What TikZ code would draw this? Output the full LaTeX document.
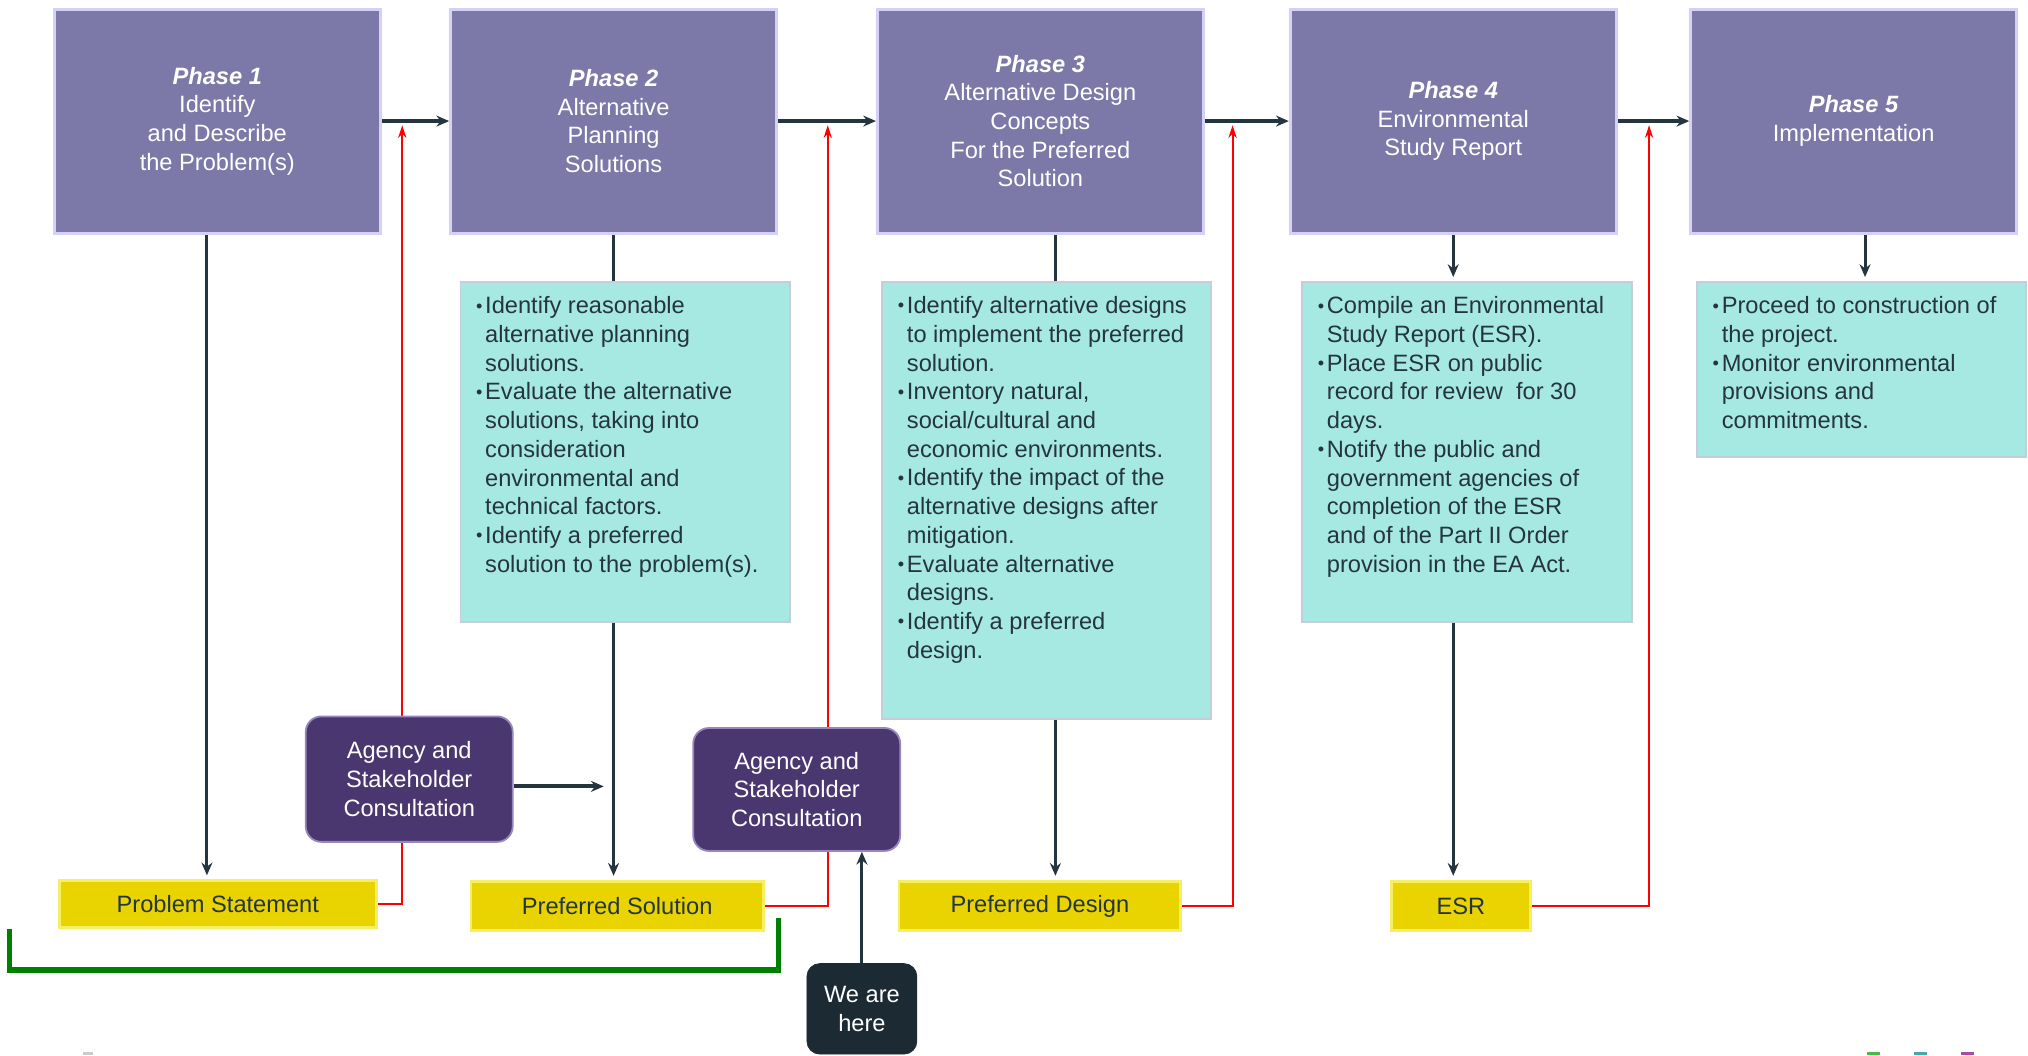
\documentclass[tikz,border=0pt]{standalone}
\usepackage{fontspec}
\setmainfont{Liberation Sans}
\usepackage{tikz}
\usetikzlibrary{arrows.meta}
\definecolor{phasefill}{RGB}{124,120,167}
\definecolor{phaseedge}{RGB}{212,208,250}
\definecolor{taskfill}{RGB}{166,232,226}
\definecolor{taskedge}{RGB}{196,206,216}
\definecolor{outfill}{RGB}{233,211,0}
\definecolor{outedge}{RGB}{246,238,100}
\definecolor{consfill}{RGB}{74,55,112}
\definecolor{consedge}{RGB}{150,135,190}
\definecolor{herefill}{RGB}{28,42,51}
\definecolor{inkdark}{RGB}{37,53,64}
\definecolor{bracketgreen}{RGB}{0,128,0}
\newcommand{\boxfont}{\fontsize{13}{15.8}\selectfont}
\newcommand{\tasklist}[3]{\parbox[c][#2][t]{#1}{\raggedright #3}}
\newcommand{\bmark}{{\fontsize{10}{10}\selectfont\raisebox{0.9pt}{\textbullet}}\hspace{1.5pt}}
\newcommand{\bgap}{\hphantom{\bmark}}
\tikzstyle{none}=[inner sep=0pt]
\tikzstyle{phase}=[rectangle,fill=phasefill,draw=phaseedge,line width=1.600,minimum width=6.3cm,minimum height=4.33cm,text=white,align=center,font=\boxfont]
\tikzstyle{task}=[rectangle,fill=taskfill,draw=taskedge,line width=1.000,inner xsep=0.3cm,inner ysep=0.28cm,text=inkdark,font=\boxfont]
\tikzstyle{outcome}=[rectangle,fill=outfill,draw=outedge,line width=1.500,minimum height=0.95cm,inner sep=0pt,text=inkdark,font=\boxfont]
\tikzstyle{consult}=[rectangle,rounded corners=0.3cm,fill=consfill,draw=consedge,line width=1.000,minimum width=4cm,minimum height=2.4cm,text=white,align=center,font=\boxfont]
\tikzstyle{here}=[rectangle,rounded corners=0.25cm,fill=herefill,draw=herefill,minimum width=2.125cm,minimum height=1.75cm,text=white,align=center,font=\boxfont]
\tikzstyle{flow}=[-{Stealth[length=7pt,width=6pt]},draw=inkdark,line width=2.200]
\tikzstyle{inarrow}=[-{Stealth[length=7pt,width=6pt]},draw=inkdark,line width=1.700,shorten >=.08cm]
\tikzstyle{simple}=[-,draw=inkdark,line width=1.700]
\tikzstyle{feedback}=[-,draw=red,line width=1.100]
\tikzstyle{feedbackarrow}=[-{Stealth[length=7pt,width=4.5pt]},draw=red,line width=1.100,shorten >=.08cm]
\tikzstyle{bracket}=[-,draw=bracketgreen,line width=2.800]
\pgfdeclarelayer{edgelayer}
\pgfdeclarelayer{nodelayer}
\pgfsetlayers{edgelayer,nodelayer,main}
\begin{document}
\begin{tikzpicture}
	\useasboundingbox (0,0) rectangle (39.2,-20.4);
	\begin{pgfonlayer}{nodelayer}
		\node [style=phase] (0) at (4.2, -2.34) {\textbf{\textit{Phase 1}}\\Identify\\and Describe\\the Problem(s)};
		\node [style=phase] (1) at (11.86, -2.34) {\textbf{\textit{Phase 2}}\\Alternative\\Planning\\Solutions};
		\node [style=phase] (2) at (20.11, -2.34) {\textbf{\textit{Phase 3}}\\Alternative Design\\Concepts\\For the Preferred\\Solution};
		\node [style=phase] (3) at (28.09, -2.34) {\textbf{\textit{Phase 4}}\\Environmental\\Study Report};
		\node [style=phase] (4) at (35.83, -2.34) {\textbf{\textit{Phase 5}}\\Implementation};
		\node [style=task] (5) at (12.09, -8.74) {\tasklist{5.775cm}{6.015cm}{%
			\bmark Identify reasonable\\\bgap alternative planning\\\bgap solutions.\\
			\bmark Evaluate the alternative\\\bgap solutions, taking into\\\bgap consideration\\\bgap environmental and\\\bgap technical factors.\\
			\bmark Identify a preferred\\\bgap solution to the problem(s).}};
		\node [style=task] (6) at (20.23, -9.675) {\tasklist{5.75cm}{7.89cm}{%
			\bmark Identify alternative designs\\\bgap to implement the preferred\\\bgap solution.\\
			\bmark Inventory natural,\\\bgap social/cultural and\\\bgap economic environments.\\
			\bmark Identify the impact of the\\\bgap alternative designs after\\\bgap mitigation.\\
			\bmark Evaluate alternative\\\bgap designs.\\
			\bmark Identify a preferred\\\bgap design.}};
		\node [style=task] (7) at (28.36, -8.74) {\tasklist{5.775cm}{6.015cm}{%
			\bmark Compile an Environmental\\\bgap Study Report (ESR).\\
			\bmark Place ESR on public\\\bgap record for review\ \ for 30\\\bgap days.\\
			\bmark Notify the public and\\\bgap government agencies of\\\bgap completion of the ESR\\\bgap and of the Part II Order\\\bgap provision in the EA Act.}};
		\node [style=task] (8) at (35.98, -7.14) {\tasklist{5.75cm}{2.815cm}{%
			\bmark Proceed to construction of\\\bgap the project.\\
			\bmark Monitor environmental\\\bgap provisions and\\\bgap commitments.}};
		\node [style=outcome, minimum width=6.125cm, minimum height=0.9cm] (9) at (4.21, -17.475) {Problem Statement};
		\node [style=outcome, minimum width=5.65cm] (10) at (11.93, -17.51) {Preferred Solution};
		\node [style=outcome, minimum width=5.45cm] (11) at (20.1, -17.51) {Preferred Design};
		\node [style=outcome, minimum width=2.675cm] (12) at (28.24, -17.51) {ESR};
		\node [style=consult, minimum height=2.425cm] (13) at (7.91, -15.06) {Agency and\\Stakeholder\\Consultation};
		\node [style=consult, minimum height=2.375cm] (14) at (15.4, -15.26) {Agency and\\Stakeholder\\Consultation};
		\node [style=here] (15) at (16.66, -19.5) {We are\\here};
		\node [style=none] (16) at (7.775, -17.475) {};
		\node [style=none] (17) at (16.0, -17.51) {};
		\node [style=none] (18) at (23.825, -17.51) {};
		\node [style=none] (19) at (31.875, -17.51) {};
		\node [style=none] (20) at (11.75, -15.2) {};
		\node [style=none] (21) at (0.175, -17.95) {};
		\node [style=none] (22) at (0.175, -18.75) {};
		\node [style=none] (23) at (15.05, -18.75) {};
		\node [style=none] (24) at (15.05, -17.75) {};
	\end{pgfonlayer}
	\begin{pgfonlayer}{edgelayer}
		\draw [style=flow] (0) to (1);
		\draw [style=flow] (1) to (2);
		\draw [style=flow] (2) to (3);
		\draw [style=flow] (3) to (4);
		\draw [style=inarrow] ([xshift=-0.2cm]0.south) to ([xshift=-0.2cm]0.south |- 9.north);
		\draw [style=simple] (1.south) to (1.south |- 5.north);
		\draw [style=inarrow] (1.south |- 5.south) to (1.south |- 10.north);
		\draw [style=simple] ([xshift=0.29cm]2.south) to ([xshift=0.29cm]2.south |- 6.north);
		\draw [style=inarrow] ([xshift=0.29cm]2.south |- 6.south) to ([xshift=0.29cm]2.south |- 11.north);
		\draw [style=inarrow] (3.south) to (3.south |- 7.north);
		\draw [style=inarrow] (3.south |- 7.south) to (3.south |- 12.north);
		\draw [style=inarrow] ([xshift=0.22cm]4.south) to ([xshift=0.22cm]4.south |- 8.north);
		\draw [style=inarrow, line width=2.200] (13.east |- 20.center) to (20.center);
		\draw [style=inarrow, shorten >=0pt] (15.north) to (15.north |- 14.south);
		\draw [style=feedback] (9.east) to (16.center) to (16.center |- 13.south);
		\draw [style=feedbackarrow] (16.center |- 13.north) to (16.center |- 0.east);
		\draw [style=feedback] (10.east) to (17.center) to (17.center |- 14.south);
		\draw [style=feedbackarrow] (17.center |- 14.north) to (17.center |- 1.east);
		\draw [style=feedbackarrow] (11.east) to (18.center) to (18.center |- 2.east);
		\draw [style=feedbackarrow] (12.east) to (19.center) to (19.center |- 3.east);
		\draw [style=bracket] (21.center) to (22.center) to (23.center) to (24.center);
	\end{pgfonlayer}
	\fill [gray!40] (1.6, -20.34) rectangle (1.8, -20.4);
	\fill [green!60!black!70] (36.08, -20.33) rectangle (36.33, -20.4);
	\fill [teal!70] (37.0, -20.33) rectangle (37.25, -20.4);
	\fill [violet!70] (37.9, -20.33) rectangle (38.15, -20.4);
\end{tikzpicture}
\end{document}
